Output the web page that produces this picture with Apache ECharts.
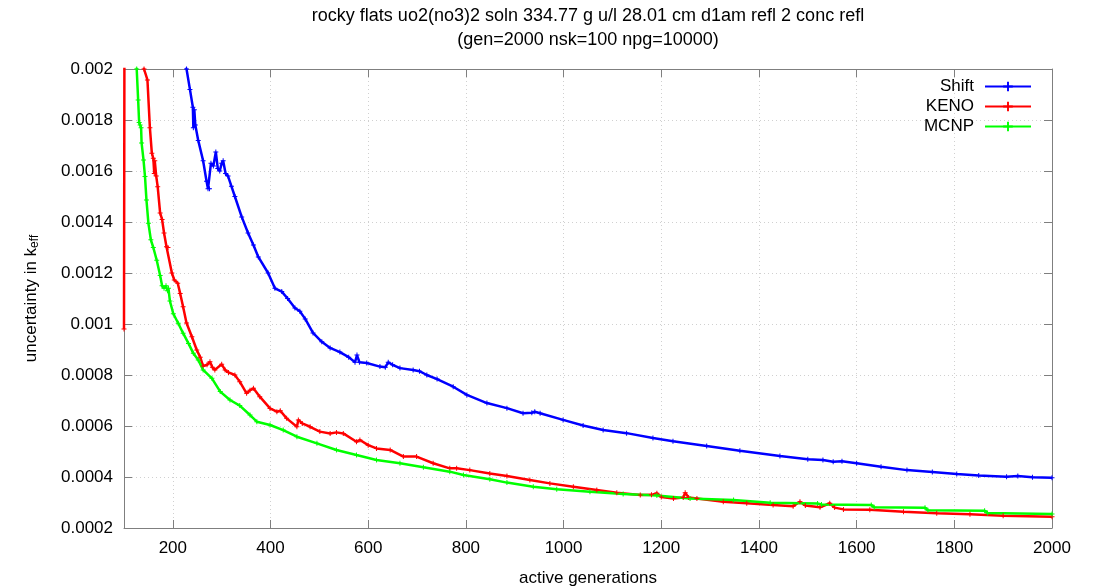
<!DOCTYPE html>
<html>
<head>
<meta charset="utf-8">
<script src="https://cdn.jsdelivr.net/npm/echarts@6/dist/echarts.min.js"></script>
<style>
  html, body { margin: 0; padding: 0; background: #fff; }
  #main { width: 1097px; height: 586px; }
</style>
</head>
<body>
<div id="main"></div>
<script>
// generations and uncertainty values
var shiftGen = [210, 228, 235, 241, 242, 244, 246, 252, 262, 269, 272, 275, 278, 283, 288, 292, 296, 300, 303, 308, 313, 320, 327, 341, 354, 365, 375, 395, 409, 423, 435, 450, 460, 471, 487, 505, 522, 542, 560, 573, 577, 582, 597, 624, 635, 641, 650, 665, 692, 705, 720, 741, 774, 802, 843, 884, 917, 935, 941, 952, 999, 1040, 1081, 1129, 1183, 1224, 1293, 1361, 1443, 1500, 1531, 1552, 1570, 1600, 1650, 1703, 1755, 1805, 1850, 1907, 1930, 1960, 2000];
var shiftUnc = [0.00225, 0.00200, 0.00192, 0.00185, 0.00177, 0.00184, 0.00178, 0.00172, 0.00164, 0.00156, 0.00153, 0.00153, 0.00163, 0.00162, 0.001675, 0.00161, 0.00160, 0.00163, 0.00164, 0.00159, 0.00158, 0.00154, 0.00150, 0.00142, 0.001357, 0.00131, 0.001263, 0.00120, 0.00114, 0.001127, 0.00110, 0.001063, 0.00105, 0.00102, 0.000965, 0.00093, 0.000906, 0.00089, 0.00087, 0.00085, 0.000878, 0.00085, 0.000847, 0.000833, 0.00083, 0.00085, 0.00084, 0.000827, 0.00082, 0.000815, 0.0008, 0.000784, 0.000754, 0.000722, 0.00069, 0.00067, 0.00065, 0.000652, 0.000656, 0.00065, 0.000624, 0.000602, 0.000584, 0.000572, 0.000553, 0.00054, 0.000522, 0.000503, 0.000482, 0.00047, 0.000467, 0.00046, 0.000462, 0.000454, 0.00044, 0.000427, 0.00042, 0.000412, 0.000406, 0.000401, 0.000404, 0.000399, 0.000397];

var kenoGen = [100, 102, 120, 135, 141, 148, 153, 157, 160, 162, 163, 166, 169, 174, 178, 182, 187, 190, 198, 203, 210, 215, 221, 228, 239, 249, 256, 262, 270, 276, 281, 286, 300, 307, 314, 327, 337, 351, 358, 365, 378, 399, 413, 420, 433, 454, 457, 465, 481, 501, 522, 535, 549, 576, 583, 600, 617, 645, 672, 699, 733, 767, 781, 808, 849, 884, 931, 972, 1020, 1068, 1109, 1157, 1180, 1191, 1200, 1225, 1245, 1249, 1256, 1273, 1327, 1375, 1429, 1470, 1484, 1495, 1525, 1545, 1555, 1573, 1627, 1696, 1764, 1832, 1900, 2000];
var kenoUnc = [0.00098, 0.0035, 0.0027, 0.00222, 0.00200, 0.001957, 0.00177, 0.00167, 0.00165, 0.00159, 0.00164, 0.00158, 0.001538, 0.001435, 0.00141, 0.001357, 0.001303, 0.00130, 0.00120, 0.001173, 0.00116, 0.00112, 0.001068, 0.001004, 0.00095, 0.000898, 0.00087, 0.000835, 0.00084, 0.000852, 0.00083, 0.00082, 0.000842, 0.00082, 0.00081, 0.0008, 0.000774, 0.000728, 0.00074, 0.000748, 0.000715, 0.000669, 0.000656, 0.00066, 0.00063, 0.000597, 0.000624, 0.00061, 0.000597, 0.000578, 0.000571, 0.000575, 0.000571, 0.000538, 0.000545, 0.000525, 0.000512, 0.000506, 0.00048, 0.00048, 0.000454, 0.000434, 0.000434, 0.000427, 0.000414, 0.000404, 0.000388, 0.000375, 0.000362, 0.000349, 0.000338, 0.000329, 0.00033, 0.000336, 0.000322, 0.000316, 0.00032, 0.000338, 0.00032, 0.000316, 0.000303, 0.000297, 0.00029, 0.000285, 0.000303, 0.000288, 0.000281, 0.000297, 0.00028, 0.000273, 0.000272, 0.000264, 0.000258, 0.000254, 0.000248, 0.000244];

var mcnpGen = [105, 118, 126, 129, 131, 133, 135, 136, 140, 143, 146, 150, 155, 160, 167, 174, 178, 182, 186, 189, 191, 194, 201, 211, 221, 232, 242, 252, 262, 280, 297, 317, 337, 358, 372, 399, 426, 454, 495, 535, 576, 617, 665, 713, 767, 795, 849, 884, 938, 986, 1054, 1122, 1191, 1259, 1348, 1423, 1520, 1528, 1630, 1636, 1740, 1746, 1862, 1868, 2000];
var mcnpUnc = [0.0032, 0.00235, 0.00200, 0.001878, 0.00179, 0.00178, 0.00177, 0.00171, 0.001643, 0.001578, 0.001486, 0.001395, 0.00133, 0.0013, 0.00125, 0.00119, 0.00115, 0.00114, 0.00115, 0.00113, 0.00114, 0.00109, 0.00104, 0.001003, 0.000964, 0.000924, 0.000885, 0.000859, 0.00082, 0.000787, 0.000735, 0.000702, 0.00068, 0.000643, 0.000617, 0.000604, 0.000584, 0.000558, 0.000532, 0.000506, 0.000486, 0.000467, 0.000454, 0.000438, 0.000421, 0.000408, 0.000391, 0.000378, 0.000362, 0.000352, 0.000342, 0.000333, 0.000327, 0.000316, 0.00031, 0.000299, 0.000296, 0.000292, 0.00029, 0.000281, 0.000279, 0.00027, 0.000268, 0.000259, 0.000255];

var xTicks = [200, 400, 600, 800, 1000, 1200, 1400, 1600, 1800, 2000];

function pairs(xs, ys) {
    var out = [];
    for (var i = 0; i < xs.length; i++) out.push([xs[i], ys[i]]);
    return out;
}

var font = 'Liberation Sans, Arial, Helvetica, sans-serif';
var plus = 'path://M4,0H6V4H10V6H6V10H4V6H0V4H4Z';
var boxColor = '#7f7f7f';

var chart = echarts.init(document.getElementById('main'));

function lineSeries(name, color, data) {
    return {
        name: name,
        type: 'line',
        data: data,
        color: color,
        symbol: plus,
        symbolSize: 5,
        showSymbol: true,
        lineStyle: { width: 2.5, color: color },
        itemStyle: { color: color },
        clip: true,
        animation: false
    };
}

var option = {
    animation: false,
    textStyle: { fontFamily: font },
    title: {
        text: 'rocky flats uo2(no3)2 soln 334.77 g u/l 28.01 cm d1am refl 2 conc refl\n(gen=2000 nsk=100 npg=10000)',
        left: 588,
        textAlign: 'center',
        top: 4,
        padding: 0,
        textStyle: { fontFamily: font, fontSize: 18, fontWeight: 'normal', color: '#000', lineHeight: 24 }
    },
    legend: {
        data: ['Shift', 'KENO', 'MCNP'],
        orient: 'vertical',
        right: 65,
        top: 78,
        padding: 0,
        align: 'right',
        itemWidth: 46,
        itemHeight: 12,
        itemGap: 3,
        textStyle: { fontFamily: font, fontSize: 17, color: '#000', padding: [0, 6, 0, 0] }
    },
    grid: { left: 124, right: 45, top: 69, bottom: 58, outerBoundsMode: 'none' },
    xAxis: [{
        type: 'value',
        position: 'bottom',
        min: 100,
        max: 2000,
        name: 'active generations',
        nameLocation: 'middle',
        nameGap: 42,
        nameTextStyle: { fontFamily: font, fontSize: 17, color: '#000' },
        axisLine: { show: true, lineStyle: { color: boxColor, width: 1 } },
        axisTick: { show: true, inside: true, length: 8, customValues: xTicks, lineStyle: { color: boxColor } },
        axisLabel: {
            customValues: xTicks, fontFamily: font, fontSize: 17, color: '#000', margin: 12,
            formatter: function (v) { return String(v); }
        },
        splitLine: { show: true, lineStyle: { color: '#d0d0d0', type: [1, 3], width: 1 } }
    }, {
        type: 'value',
        position: 'top',
        min: 100,
        max: 2000,
        axisLine: { show: true, lineStyle: { color: boxColor, width: 1 } },
        axisTick: { show: true, inside: true, length: 8, customValues: xTicks, lineStyle: { color: boxColor } },
        axisLabel: { show: false },
        splitLine: { show: false }
    }],
    yAxis: [{
        type: 'value',
        position: 'left',
        min: 0.0002,
        max: 0.002,
        interval: 0.0002,
        name: '{a|uncertainty in k}{b|eff}',
        nameLocation: 'middle',
        nameGap: 83,
        nameTextStyle: {
            fontFamily: font, fontSize: 17, color: '#000',
            rich: {
                a: { fontFamily: font, fontSize: 17, color: '#000' },
                b: { fontFamily: font, fontSize: 12, color: '#000', padding: [8, 0, 0, 0] }
            }
        },
        axisLine: { show: true, lineStyle: { color: boxColor, width: 1 } },
        axisTick: { show: true, inside: true, length: 8, lineStyle: { color: boxColor } },
        axisLabel: { fontFamily: font, fontSize: 17, color: '#000', margin: 11 },
        splitLine: { show: true, lineStyle: { color: '#d0d0d0', type: [1, 3], width: 1 } }
    }, {
        type: 'value',
        position: 'right',
        min: 0.0002,
        max: 0.002,
        interval: 0.0002,
        axisLine: { show: true, lineStyle: { color: boxColor, width: 1 } },
        axisTick: { show: true, inside: true, length: 8, lineStyle: { color: boxColor } },
        axisLabel: { show: false },
        splitLine: { show: false }
    }],
    series: [
        lineSeries('Shift', '#0000ff', pairs(shiftGen, shiftUnc)),
        lineSeries('KENO', '#ff0000', pairs(kenoGen, kenoUnc)),
        lineSeries('MCNP', '#00ff00', pairs(mcnpGen, mcnpUnc))
    ]
};
chart.setOption(option);
</script>
</body>
</html>
